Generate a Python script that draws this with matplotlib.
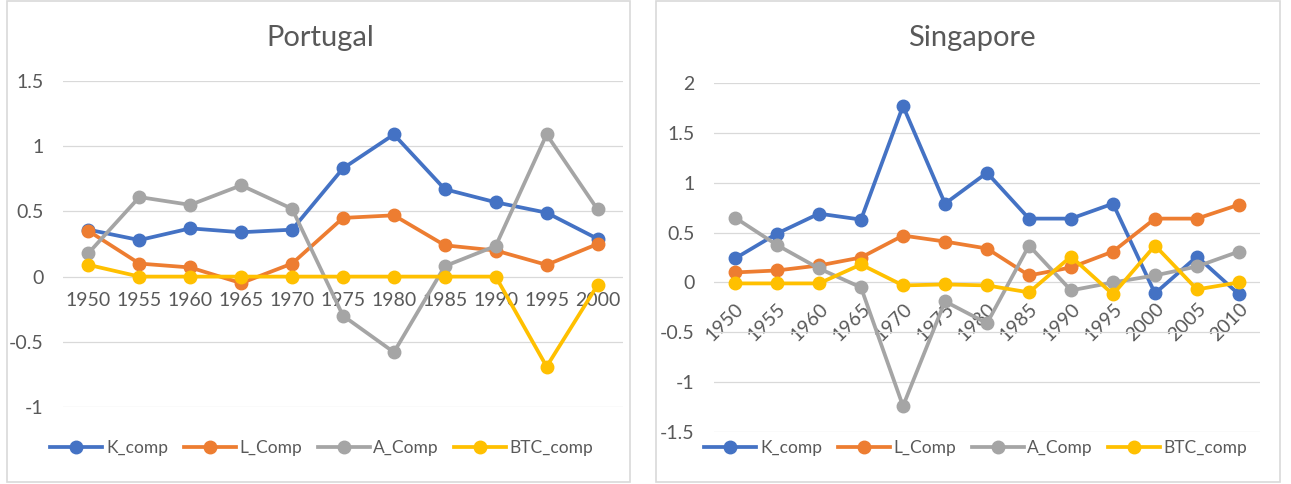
import numpy as np
import matplotlib
matplotlib.use('Agg')
import matplotlib.pyplot as plt
from matplotlib.patches import Rectangle

plt.rcParams['font.family'] = ['Lato', 'DejaVu Sans']

series_names = ['K_comp', 'L_Comp', 'A_Comp', 'BTC_comp']
colors = ['#4472C4', '#ED7D31', '#A5A5A5', '#FFC000']

pt_years = ['1950', '1955', '1960', '1965', '1970', '1975', '1980', '1985', '1990', '1995', '2000']
pt_k = [0.36, 0.28, 0.37, 0.34, 0.36, 0.83, 1.09, 0.67, 0.57, 0.49, 0.29]
pt_l = [0.35, 0.10, 0.07, -0.05, 0.10, 0.45, 0.47, 0.24, 0.20, 0.09, 0.25]
pt_a = [0.18, 0.61, 0.55, 0.70, 0.52, -0.30, -0.58, 0.08, 0.235, 1.09, 0.515]
pt_btc = [0.09, 0.0, 0.0, 0.0, 0.0, 0.0, 0.0, 0.0, 0.0, -0.69, -0.065]

sg_years = ['1950', '1955', '1960', '1965', '1970', '1975', '1980', '1985', '1990', '1995', '2000', '2005', '2010']
sg_k = [0.24, 0.49, 0.69, 0.63, 1.77, 0.79, 1.10, 0.64, 0.64, 0.79, -0.11, 0.26, -0.12]
sg_l = [0.10, 0.12, 0.17, 0.25, 0.47, 0.41, 0.34, 0.07, 0.15, 0.31, 0.64, 0.64, 0.78]
sg_a = [0.65, 0.375, 0.14, -0.05, -1.24, -0.19, -0.41, 0.37, -0.08, 0.0, 0.07, 0.16, 0.31]
sg_btc = [-0.01, -0.01, -0.01, 0.18, -0.03, -0.02, -0.03, -0.10, 0.26, -0.12, 0.37, -0.07, 0.0]

W, H = 1291, 484
fig = plt.figure(figsize=(W / 100, H / 100), dpi=100)

txt_col = '#595959'
grid_col = '#D9D9D9'


def px_box(x0, y0, x1, y1):
  return [x0 / W, 1 - y1 / H, (x1 - x0) / W, (y1 - y0) / H]


def draw_panel(box, plot_box, title, title_x, years, data, ylim, rotate, legend_y, legend_x):
  fig.patches.append(Rectangle((box[0], box[1]), box[2], box[3], transform=fig.transFigure,
                               facecolor='none', edgecolor=grid_col, lw=1.2, zorder=-5))
  ax = fig.add_axes(plot_box)
  ax.set_facecolor('none')
  x = np.arange(len(years))
  lines = []
  for vals, name, c in zip(data, series_names, colors):
    ln, = ax.plot(x, vals, '-o', color=c, lw=2.7, markersize=9, label=name, zorder=3)
    lines.append(ln)
  ax.set_xlim(-0.5, len(years) - 0.5)
  ax.set_ylim(*ylim)
  ticks = np.arange(ylim[0], ylim[1] + 0.01, 0.5)
  ax.set_yticks(ticks)
  ax.set_yticklabels(['{:g}'.format(t) for t in ticks])
  ax.yaxis.grid(True, color=grid_col, lw=0.9)
  ax.set_axisbelow(True)
  for s in ax.spines.values():
    s.set_visible(False)
  ax.spines['bottom'].set_position(('data', 0))
  ax.set_xticks(x)
  if rotate:
    ax.set_xticklabels(years, rotation=45, ha='right', va='top', rotation_mode='anchor')
    ax.tick_params(axis='x', pad=13)
  else:
    ax.set_xticklabels(years)
    ax.tick_params(axis='x', pad=11)
  ax.tick_params(axis='both', length=0, labelsize=14, labelcolor=txt_col)
  ax.tick_params(axis='y', pad=14)
  fig.text(title_x / W, 1 - 38 / H, title, ha='center', va='center', fontsize=21, color=txt_col)
  fig.legend(handles=lines, loc='center', bbox_to_anchor=(legend_x / W, 1 - legend_y / H),
             ncol=4, frameon=False, fontsize=12.5, handlelength=3.0, handletextpad=0.2,
             columnspacing=0.9, labelcolor=txt_col)
  return ax


draw_panel(px_box(7, 1, 630, 482), px_box(63, 81, 623, 407), 'Portugal', 320,
           pt_years, [pt_k, pt_l, pt_a, pt_btc], (-1, 1.5), False, 448, 322)
draw_panel(px_box(656, 1, 1280, 482), px_box(714, 83, 1260, 432), 'Singapore', 972,
           sg_years, [sg_k, sg_l, sg_a, sg_btc], (-1.5, 2), True, 448, 976)

fig.savefig('out.png', dpi=100)
